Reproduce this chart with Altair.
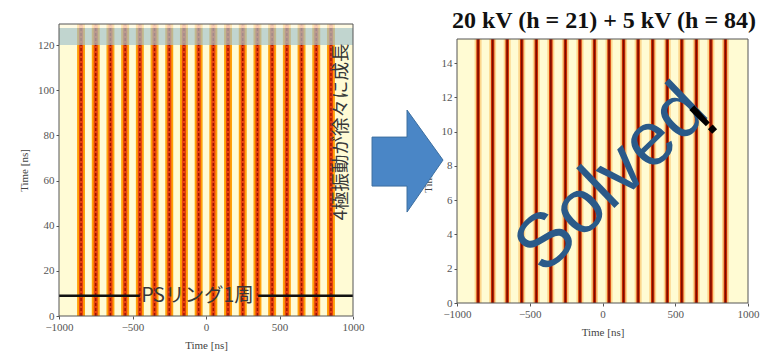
import altair as alt
import pandas as pd

# ---------------- data ----------------
x_ticks = [-1000, -500, 0, 500, 1000]
left_y_ticks = [0, 20, 40, 60, 80, 100, 120]
right_y_ticks = [0, 2, 4, 6, 8, 10, 12, 14]
left_centers = list(range(-850, 851, 100))     # bunch centres, left plot [ns]
right_centers = list(range(-855, 846, 100))    # bunch centres, right plot [ns]
left_ymax = 129.3
right_ymax = 15.4
band_lo, band_hi = 120, 127.5                  # grey band in left plot
ps_turn = 9                                    # "PSリング1周" line level
ps_line_x0 = [-1000, 355]
ps_line_x1 = [-450, 1000]
title_text = "20 kV (h = 21) + 5 kV (h = 84)"
# block arrow (right-plot data units for its centre)
arrow_pos = {"x": [-1340], "y": [8.28]}
ARROW_PATH = ("M -0.696 -0.47 L -0.01 -0.47 L -0.01 -1 L 0.696 -0.02 "
              "L -0.01 1 L -0.01 0.49 L -0.696 0.49 Z")

# ---------------- scales / axes ----------------
XS = alt.Scale(domain=[-1000, 1000], nice=False, zero=False)
YSL = alt.Scale(domain=[0, left_ymax], nice=False, zero=False)
YSR = alt.Scale(domain=[0, right_ymax], nice=False, zero=False)
AX = alt.Axis(values=x_ticks, title="Time [ns]", format="d", labelFlush=False, titlePadding=7)
AYL = alt.Axis(values=left_y_ticks, title="Time [ns]", format="d", titlePadding=8)
AYR = alt.Axis(values=right_y_ticks, title="Time [ns]", format="d", titlePadding=8)


def X(f):
    return alt.X(f, type="quantitative", scale=XS, axis=AX)


def Y(f, ys, ay):
    return alt.Y(f, type="quantitative", scale=ys, axis=ay)


# ---------------- left panel ----------------
bgL = pd.DataFrame({"x0": [-1000], "x1": [1000], "y0": [0], "y1": [left_ymax]})
stL = pd.DataFrame({"c": left_centers})
stL["o0"] = stL.c - 27
stL["o1"] = stL.c + 27
stL["r0"] = stL.c - 14
stL["r1"] = stL.c + 14
stL["y0"] = 0
stL["y1"] = left_ymax

L_bg = alt.Chart(bgL).mark_rect(color="#fffbd5").encode(
    x=X("x0"), x2="x1", y=Y("y0", YSL, AYL), y2="y1")
L_or = alt.Chart(stL).mark_rect(color="#ffa10a").encode(
    x=X("o0"), x2="o1", y=Y("y0", YSL, AYL), y2="y1")
L_red = alt.Chart(stL).mark_rect(color="#e8420e").encode(
    x=X("r0"), x2="r1", y=Y("y0", YSL, AYL), y2="y1")
L_dash = alt.Chart(stL).mark_rule(color="#9a1400", strokeWidth=1.4, strokeDash=[3, 2]).encode(
    x=X("c"), y=Y("y0", YSL, AYL), y2="y1")
bandL = pd.DataFrame({"x0": [-1000], "x1": [1000], "y0": [band_lo], "y1": [band_hi]})
L_band = alt.Chart(bandL).mark_rect(color="#a3c2cb", opacity=0.68).encode(
    x=X("x0"), x2="x1", y=Y("y0", YSL, AYL), y2="y1")
topL = pd.DataFrame({"x0": [-1000], "x1": [1000], "y0": [band_hi], "y1": [left_ymax]})
L_top = alt.Chart(topL).mark_rect(color="#fffbe8", opacity=0.75).encode(
    x=X("x0"), x2="x1", y=Y("y0", YSL, AYL), y2="y1")
psL = pd.DataFrame({"x0": ps_line_x0, "x1": ps_line_x1, "y": [ps_turn, ps_turn]})
L_ps = alt.Chart(psL).mark_rule(color="#111111", strokeWidth=2.5).encode(
    x=X("x0"), x2="x1", y=Y("y", YSL, AYL))
L_pst = alt.Chart(pd.DataFrame({"x": [-58], "y": [ps_turn], "t": ["PSリング1周"]})).mark_text(
    font="Noto Sans CJK JP", fontSize=19.5, color="#383838", baseline="middle", align="center"
).encode(x=X("x"), y=Y("y", YSL, AYL), text="t:N")
L_vt = alt.Chart(pd.DataFrame({"x": [918], "y": [81.5], "t": ["4極振動が徐々に成長"]})).mark_text(
    font="Noto Sans CJK JP", fontSize=18.5, color="#383838", baseline="middle", align="center", angle=270
).encode(x=X("x"), y=Y("y", YSL, AYL), text="t:N")
L_frame = alt.Chart(bgL).mark_rect(filled=False, stroke="#555555", strokeWidth=1).encode(
    x=X("x0"), x2="x1", y=Y("y0", YSL, AYL), y2="y1")

left = alt.layer(L_bg, L_or, L_red, L_dash, L_band, L_top, L_ps, L_pst, L_vt, L_frame).properties(
    width=294, height=292)

# ---------------- right panel ----------------
bgR = pd.DataFrame({"x0": [-1000], "x1": [1000], "y0": [0], "y1": [right_ymax]})
stR = pd.DataFrame({"c": right_centers})
stR["h0"] = stR.c - 24
stR["h1"] = stR.c + 24
stR["r0"] = stR.c - 12
stR["r1"] = stR.c + 12
stR["d0"] = stR.c - 5
stR["d1"] = stR.c + 5
stR["y0"] = 0
stR["y1"] = right_ymax

R_bg = alt.Chart(bgR).mark_rect(color="#fffbd3").encode(
    x=X("x0"), x2="x1", y=Y("y0", YSR, AYR), y2="y1")
R_halo = alt.Chart(stR).mark_rect(color="#fbd68c").encode(
    x=X("h0"), x2="h1", y=Y("y0", YSR, AYR), y2="y1")
R_red = alt.Chart(stR).mark_rect(color="#d23000").encode(
    x=X("r0"), x2="r1", y=Y("y0", YSR, AYR), y2="y1")
R_dark = alt.Chart(stR).mark_rect(color="#7a0c00").encode(
    x=X("d0"), x2="d1", y=Y("y0", YSR, AYR), y2="y1")
R_frame = alt.Chart(bgR).mark_rect(filled=False, stroke="#555555", strokeWidth=1).encode(
    x=X("x0"), x2="x1", y=Y("y0", YSR, AYR), y2="y1")
R_arrow = alt.Chart(pd.DataFrame(arrow_pos)).mark_point(
    shape=ARROW_PATH, size=10404, filled=True, fill="#4a86c6", stroke="#3c6e9f",
    strokeWidth=1, opacity=1
).encode(x=X("x"), y=Y("y", YSR, AYR))
R_solved = alt.Chart(pd.DataFrame({"x": [62], "y": [7.25], "t": ["Solved"]})).mark_text(
    font="Liberation Sans", fontSize=76, color="#2a5a89", angle=316, align="center", baseline="middle"
).encode(x=X("x"), y=Y("y", YSR, AYR), text="t:N")
R_bang = alt.Chart(pd.DataFrame({"x": [705], "y": [10.6], "t": ["!"]})).mark_text(
    font="Liberation Sans", fontSize=48, fontWeight="bold", color="#000000", angle=316,
    align="center", baseline="middle"
).encode(x=X("x"), y=Y("y", YSR, AYR), text="t:N")

right = alt.layer(R_bg, R_halo, R_red, R_dark, R_frame, R_arrow, R_solved, R_bang).properties(
    width=291, height=264)

spacer = alt.Chart(pd.DataFrame({"t": [title_text]})).mark_text(
    font="Liberation Serif", fontSize=24, fontWeight="bold", color="#111111",
    align="center", baseline="alphabetic"
).encode(x=alt.value(147), y=alt.value(4), text="t:N").properties(width=291, height=15)

chart = alt.hconcat(
    left,
    alt.vconcat(spacer, right, spacing=0, bounds="flush"),
    spacing=104, bounds="flush"
).properties(
    padding={"left": 18, "top": 8, "right": 11, "bottom": 5}
).configure_view(stroke="transparent").configure_axis(
    grid=False, domain=False, tickSize=3, tickColor="#555555",
    labelFont="Liberation Serif", labelFontSize=11, labelColor="#555555", labelPadding=2,
    titleFont="Liberation Serif", titleFontSize=11, titleFontWeight="normal", titleColor="#444444"
)

chart.save("out.html", embed_options={"renderer": "svg", "actions": False})
